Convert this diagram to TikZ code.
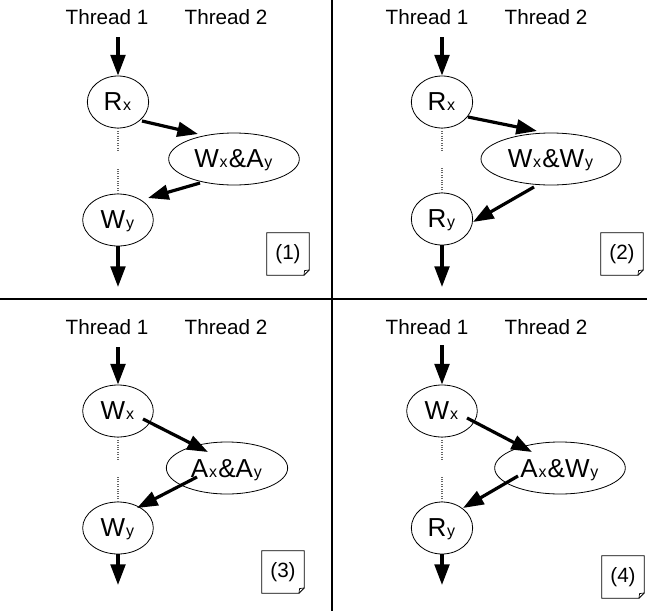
\documentclass[tikz,border=0pt]{standalone}
\usepackage{fontspec}
\setmainfont{Liberation Sans}
\usetikzlibrary{shapes.geometric,arrows.meta,calc}
\newcommand{\subf}[1]{\kern0.6pt{\fontsize{12}{12}\selectfont #1}\kern0.9pt}

\begin{document}
\begin{tikzpicture}[
  x=0.75pt, y=-0.75pt,
  event/.style={ellipse, draw, line width=0.6pt, inner sep=0pt, minimum height=39pt, minimum width=#1, text depth=0pt, font=\fontsize{19.5}{20}\selectfont},
  thread/.style={font=\fontsize{15.5}{18}\selectfont},
  note/.style={minimum width=31.5pt, minimum height=31.5pt, inner sep=0pt, font=\fontsize{15.5}{18}\selectfont},
  flow/.style={-{Triangle[length=15.5pt,width=11pt]}, line width=2.4pt},
  prog/.style={densely dotted, black!60, line width=0.8pt},
  sep/.style={line width=1.4pt}
]
\useasboundingbox (0,0) rectangle (647,611);

% quadrant separators
\draw[sep] (332,0) -- (332,611);
\draw[sep] (0,299) -- (647,299);

% thread headers
\foreach \qx/\qy/\q in {0/0/1, 320/0/2, 0/310/3, 320/310/4} {
  \node[thread] (ta\q) at (107+\qx,17+\qy) {Thread 1};
  \node[thread] (tb\q) at (226+\qx,17+\qy) {Thread 2};
}

% (1)
\node[event=46pt] (rx1) at (118,102) {R\subf{x}};
\node[event=98pt] (wa1) at (234,159) {W\subf{x}\&A\subf{y}};
\node[event=53pt] (wy1) at (118,220) {W\subf{y}};
\node[note] (note1) at (288,254) {(1)};
\coordinate (in1) at (118,37);
\coordinate (out1) at (118,287);

% (2)
\node[event=46pt] (rx2) at (442,102) {R\subf{x}};
\node[event=105pt] (ww2) at (551,159) {W\subf{x}\&W\subf{y}};
\node[event=46pt] (ry2) at (442,219) {R\subf{y}};
\node[note] (note2) at (622,254) {(2)};
\coordinate (in2) at (442,37);
\coordinate (out2) at (442,287);

% (3)
\node[event=53pt] (wx3) at (118,411) {W\subf{x}};
\node[event=91pt] (aa3) at (227,468) {A\subf{x}\&A\subf{y}};
\node[event=53pt] (wy3) at (118,528) {W\subf{y}};
\node[note] (note3) at (283,572) {(3)};
\coordinate (in3) at (118,347);
\coordinate (out3) at (118,585);

% (4)
\node[event=53pt] (wx4) at (442,411) {W\subf{x}};
\node[event=98pt] (aw4) at (560,468) {A\subf{x}\&W\subf{y}};
\node[event=46pt] (ry4) at (442,528) {R\subf{y}};
\node[note] (note4) at (623,577) {(4)};
\coordinate (in4) at (442,345);
\coordinate (out4) at (442,585);

% program order
\foreach \a/\b in {rx1/wy1, rx2/ry2, wx3/wy3, wx4/ry4} {
  \draw[prog] (\a.south) -- ++(0,23);
  \draw[prog] (\b.north) -- ++(0,-26);
}

% note frames with folded corner
\foreach \n in {note1, note2, note3, note4} {
  \draw[line width=0.6pt] (\n.north west) -- (\n.north east) -- ([yshift=4pt]\n.south east)
    -- ([xshift=-4pt]\n.south east) -- (\n.south west) -- cycle;
  \draw[line width=0.5pt] ([yshift=4pt]\n.south east) -- ([shift={(-3.5pt,3.5pt)}]\n.south east)
    -- ([xshift=-4pt]\n.south east);
}

% flows
\draw[flow] (in1) -- (rx1);
\draw[flow] ($(rx1)+(24,19)$) -- ($(wa1)+(-36,-25)$);
\draw[flow] ($(wa1)+(-34,24)$) -- ($(wy1)+(30,-22)$);
\draw[flow] (wy1) -- (out1);

\draw[flow] (in2) -- (rx2);
\draw[flow] ($(rx2)+(26,15)$) -- ($(ww2)+(-14,-28)$);
\draw[flow] ($(ww2)+(-17,28)$) -- ($(ry2)+(31,3)$);
\draw[flow] (ry2) -- (out2);

\draw[flow] (in3) -- (wx3);
\draw[flow] ($(wx3)+(25,8)$) -- ($(aa3)+(-19,-16)$);
\draw[flow] ($(aa3)+(-30,9)$) -- ($(wy3)+(19,-20)$);
\draw[flow] (wy3) -- (out3);

\draw[flow] (in4) -- (wx4);
\draw[flow] ($(wx4)+(25,7)$) -- ($(aw4)+(-28,-16)$);
\draw[flow] ($(aw4)+(-42,8)$) -- ($(ry4)+(21,-20)$);
\draw[flow] (ry4) -- (out4);
\end{tikzpicture}
\end{document}
